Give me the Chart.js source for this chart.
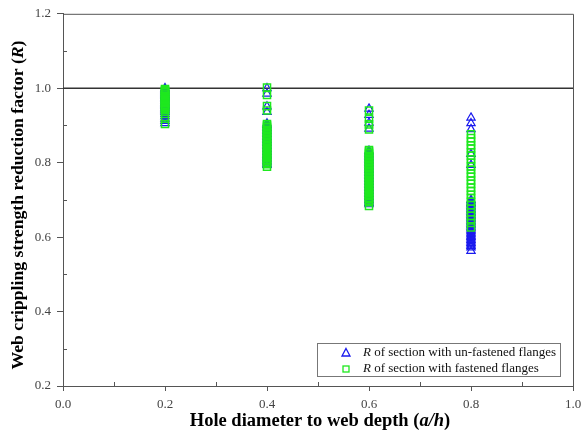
<!DOCTYPE html>
<html>
<head>
<meta charset="utf-8">
<script src="https://cdn.jsdelivr.net/npm/chart.js@4.4.0/dist/chart.umd.min.js"></script>
<style>
  html, body { margin: 0; padding: 0; background: #fff; }
  #wrap { width: 581px; height: 441px; }
</style>
</head>
<body>
<div id="wrap"><canvas id="chart" width="581" height="441"></canvas></div>
<script>
// hole diameter ratios (a/h) tested
const ratios = [0.2, 0.4, 0.6, 0.8];

// R values, one list per a/h
const unfastened02 = [1.000, 0.997, 0.994, 0.991, 0.988, 0.985, 0.982, 0.979, 0.976, 0.973, 0.970, 0.967, 0.964, 0.961, 0.958, 0.955, 0.952, 0.949, 0.946, 0.943, 0.940, 0.936, 0.931, 0.925, 0.918, 0.912, 0.906];
const unfastened04 = [1.000, 0.985, 0.951, 0.936, 0.905, 0.901, 0.897, 0.893, 0.889, 0.885, 0.881, 0.877, 0.873, 0.869, 0.865, 0.861, 0.857, 0.853, 0.849, 0.845, 0.841, 0.837, 0.833, 0.829, 0.825, 0.821, 0.817, 0.813, 0.809, 0.805, 0.801, 0.797, 0.794];
const unfastened06 = [0.945, 0.928, 0.907, 0.891, 0.832, 0.828, 0.824, 0.820, 0.816, 0.812, 0.808, 0.804, 0.800, 0.796, 0.792, 0.788, 0.784, 0.780, 0.776, 0.772, 0.768, 0.764, 0.760, 0.756, 0.752, 0.748, 0.744, 0.740, 0.736, 0.732, 0.728, 0.724, 0.720, 0.716, 0.712, 0.708, 0.704, 0.700, 0.696, 0.692, 0.688];
const unfastened08 = [0.921, 0.906, 0.890, 0.823, 0.794, 0.700, 0.696, 0.692, 0.688, 0.684, 0.680, 0.676, 0.672, 0.668, 0.664, 0.660, 0.656, 0.652, 0.648, 0.644, 0.640, 0.636, 0.632, 0.628, 0.624, 0.620, 0.616, 0.612, 0.608, 0.604, 0.600, 0.596, 0.592, 0.588, 0.584, 0.580, 0.576, 0.572, 0.563];

const fastened02 = [0.998, 0.995, 0.992, 0.989, 0.986, 0.983, 0.980, 0.977, 0.974, 0.971, 0.968, 0.965, 0.962, 0.959, 0.956, 0.953, 0.950, 0.947, 0.944, 0.941, 0.931, 0.918, 0.904];
const fastened04 = [1.002, 0.982, 0.952, 0.940, 0.904, 0.900, 0.896, 0.892, 0.888, 0.884, 0.880, 0.876, 0.872, 0.868, 0.864, 0.860, 0.856, 0.852, 0.848, 0.844, 0.840, 0.836, 0.832, 0.828, 0.824, 0.820, 0.816, 0.812, 0.808, 0.804, 0.800, 0.796, 0.789];
const fastened06 = [0.940, 0.918, 0.903, 0.889, 0.834, 0.830, 0.826, 0.822, 0.818, 0.814, 0.810, 0.806, 0.802, 0.798, 0.794, 0.790, 0.786, 0.782, 0.778, 0.774, 0.770, 0.766, 0.762, 0.758, 0.754, 0.750, 0.746, 0.742, 0.738, 0.734, 0.730, 0.726, 0.722, 0.718, 0.714, 0.710, 0.706, 0.702, 0.698, 0.694, 0.684];
const fastened08 = [0.876, 0.866, 0.857, 0.847, 0.838, 0.828, 0.819, 0.809, 0.800, 0.790, 0.781, 0.771, 0.762, 0.752, 0.743, 0.733, 0.724, 0.714, 0.705, 0.695, 0.686, 0.676, 0.667, 0.657, 0.648, 0.638, 0.626];

const xTicks = [0.0, 0.2, 0.4, 0.6, 0.8, 1.0];
const yTicks = [0.2, 0.4, 0.6, 0.8, 1.0, 1.2];
const xMinor = [0.1, 0.3, 0.5, 0.7, 0.9];
const yMinor = [0.3, 0.5, 0.7, 0.9, 1.1];
const refLine = [1.0, 1.0];

const BLUE = '#1a1aee';
const GREEN = '#1ee81e';
const SERIF = '"Liberation Serif", "Times New Roman", serif';

function toPoints(lists) {
  const pts = [];
  lists.forEach((vals, i) => {
    vals.forEach(v => pts.push({ x: ratios[i], y: v }));
  });
  return pts;
}

const unfastenedPts = toPoints([unfastened02, unfastened04, unfastened06, unfastened08]);
const fastenedPts = toPoints([fastened02, fastened04, fastened06, fastened08]);

// draws a run of text pieces with their own font, from x
function drawParts(ctx, parts, x, y, align) {
  let total = 0;
  parts.forEach(p => { ctx.font = p.font; total += ctx.measureText(p.text).width; });
  let cx = align === 'center' ? x - total / 2 : x;
  ctx.textAlign = 'left';
  ctx.textBaseline = 'middle';
  parts.forEach(p => {
    ctx.font = p.font;
    ctx.fillText(p.text, cx, y);
    cx += ctx.measureText(p.text).width;
  });
}

const decorPlugin = {
  id: 'decor',
  afterDraw(chart) {
    const { ctx, chartArea: a, scales } = chart;
    ctx.save();

    // frame top and right
    ctx.strokeStyle = '#555';
    ctx.lineWidth = 1;
    ctx.beginPath();
    ctx.moveTo(a.left, a.top + 0.5);
    ctx.lineTo(a.right + 0.5, a.top + 0.5);
    ctx.lineTo(a.right + 0.5, a.bottom);
    ctx.stroke();

    // minor ticks, inside
    ctx.beginPath();
    xMinor.forEach(v => {
      const px = Math.round(scales.x.getPixelForValue(v)) + 0.5;
      ctx.moveTo(px, a.bottom);
      ctx.lineTo(px, a.bottom - 4);
    });
    yMinor.forEach(v => {
      const py = Math.round(scales.y.getPixelForValue(v)) + 0.5;
      ctx.moveTo(a.left, py);
      ctx.lineTo(a.left + 4, py);
    });
    ctx.stroke();

    // axis titles
    ctx.fillStyle = '#000';
    drawParts(ctx, [
      { text: 'Hole diameter to web depth (', font: 'bold 18.5px ' + SERIF },
      { text: 'a/h', font: 'italic bold 18.5px ' + SERIF },
      { text: ')', font: 'bold 18.5px ' + SERIF }
    ], 320, 421, 'center');

    ctx.save();
    ctx.translate(18, 205);
    ctx.rotate(-Math.PI / 2);
    drawParts(ctx, [
      { text: 'Web crippling strength reduction factor (', font: 'bold 17.7px ' + SERIF },
      { text: 'R', font: 'italic bold 17.7px ' + SERIF },
      { text: ')', font: 'bold 17.7px ' + SERIF }
    ], 0, 0, 'center');
    ctx.restore();

    // legend box
    const lx = 317.5, ly = 343.5, lw = 243, lh = 33;
    ctx.fillStyle = '#fff';
    ctx.fillRect(lx, ly, lw, lh);
    ctx.strokeStyle = '#777';
    ctx.lineWidth = 1;
    ctx.strokeRect(lx, ly, lw, lh);

    // triangle marker
    ctx.lineWidth = 1.3;
    ctx.strokeStyle = BLUE;
    ctx.beginPath();
    ctx.moveTo(346, 348.5);
    ctx.lineTo(350, 356);
    ctx.lineTo(342, 356);
    ctx.closePath();
    ctx.stroke();
    // square marker
    ctx.strokeStyle = GREEN;
    ctx.strokeRect(343, 366, 6, 6);

    ctx.fillStyle = '#111';
    drawParts(ctx, [
      { text: 'R', font: 'italic 13px ' + SERIF },
      { text: ' of section with un-fastened flanges', font: '13px ' + SERIF }
    ], 363, 353, 'left');
    drawParts(ctx, [
      { text: 'R', font: 'italic 13px ' + SERIF },
      { text: ' of section with fastened flanges', font: '13px ' + SERIF }
    ], 363, 369, 'left');

    ctx.restore();
  }
};

new Chart(document.getElementById('chart'), {
  type: 'scatter',
  data: {
    datasets: [
      {
        label: 'R of section with un-fastened flanges',
        data: unfastenedPts,
        pointStyle: 'triangle',
        pointRadius: 4.8,
        borderColor: BLUE,
        backgroundColor: 'rgba(0,0,0,0)',
        pointBorderWidth: 1.2,
        order: 2
      },
      {
        label: 'R of section with fastened flanges',
        data: fastenedPts,
        pointStyle: 'rect',
        pointRadius: 5,
        borderColor: GREEN,
        backgroundColor: 'rgba(0,0,0,0)',
        pointBorderWidth: 1.5,
        order: 1
      },
      {
        type: 'line',
        label: 'R = 1.0',
        data: [{ x: xTicks[0], y: refLine[0] }, { x: xTicks[xTicks.length - 1], y: refLine[1] }],
        borderColor: '#333',
        borderWidth: 1.5,
        pointRadius: 0,
        order: 3
      }
    ]
  },
  options: {
    responsive: false,
    animation: false,
    layout: { padding: { top: 12, right: 0, left: 0, bottom: 0 } },
    plugins: {
      legend: { display: false },
      tooltip: { enabled: false }
    },
    scales: {
      x: {
        type: 'linear',
        min: xTicks[0],
        max: xTicks[xTicks.length - 1],
        afterFit(s) { s.height = 55; s.paddingRight = 8; s.paddingLeft = 0; },
        afterBuildTicks(s) { s.ticks = xTicks.map(v => ({ value: v })); },
        ticks: {
          callback: v => Number(v).toFixed(1),
          font: { family: SERIF, size: 13 },
          color: '#444',
          padding: 6,
          maxRotation: 0
        },
        grid: { drawOnChartArea: false, tickLength: 5, color: '#555' },
        border: { display: true, color: '#555', width: 1 }
      },
      y: {
        type: 'linear',
        min: yTicks[0],
        max: yTicks[yTicks.length - 1],
        afterFit(s) { s.width = 63; },
        afterBuildTicks(s) { s.ticks = yTicks.map(v => ({ value: v })); },
        ticks: {
          callback: v => Number(v).toFixed(1),
          font: { family: SERIF, size: 13 },
          color: '#444',
          padding: 6
        },
        grid: { drawOnChartArea: false, tickLength: 6, color: '#555' },
        border: { display: true, color: '#555', width: 1 }
      }
    }
  },
  plugins: [decorPlugin]
});
</script>
</body>
</html>
